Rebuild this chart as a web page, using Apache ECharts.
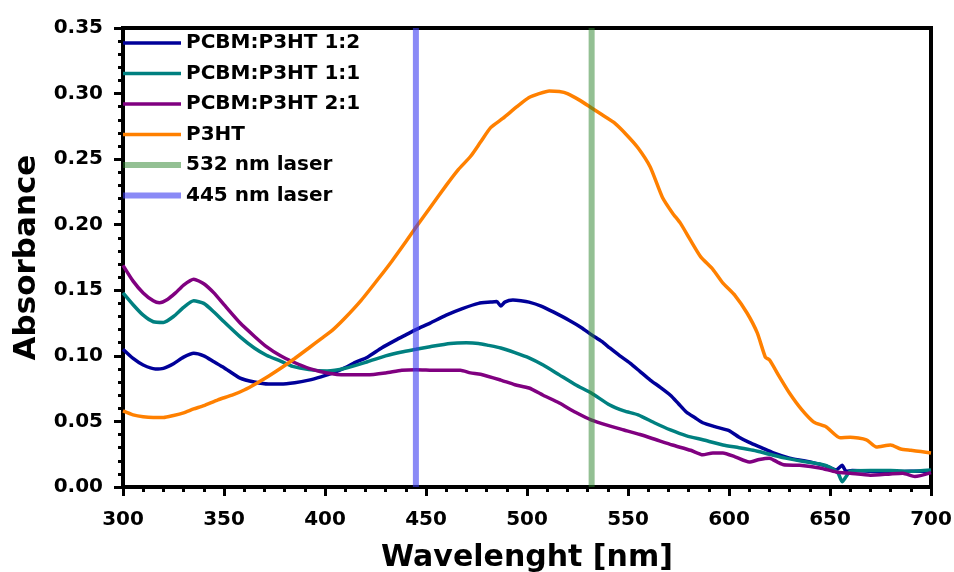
<!DOCTYPE html>
<html>
<head>
<meta charset="utf-8">
<script src="https://cdn.jsdelivr.net/npm/echarts@6/dist/echarts.min.js"></script>
<style>html,body{margin:0;padding:0;background:#fff}#c{width:954px;height:572px}</style>
</head>
<body>
<div id="c"></div>
<script>
// ---- data ----
const seriesNames = ['PCBM:P3HT 1:2', 'PCBM:P3HT 1:1', 'PCBM:P3HT 2:1', 'P3HT', '532 nm laser', '445 nm laser'];
const laserWavelengths = [532, 445];
const yRange = [0, 0.35];

const wl12 = [300,305,310,316,320,325,330,335,340,345,350,358,365,372,378,385,392,398,404,410,415,421,428,435,440,445,452,460,468,476,482,485,487,489,493,497,501,507,513,521,527,532,537,541,546,551,556,561,566,571,575,579,583,587,593,600,605,610,616,622,630,637,643,648,653,656,658,661,670,680,690,700];
const abs12 = [.105,.098,.093,.090,.0905,.094,.099,.102,.100,.0955,.091,.083,.080,.0785,.0785,.0795,.0815,.084,.087,.091,.095,.099,.106,.112,.116,.120,.125,.131,.136,.140,.141,.1415,.138,.141,.1425,.142,.141,.138,.1335,.127,.1215,.116,.111,.106,.100,.0945,.088,.0815,.076,.070,.0635,.057,.053,.049,.046,.043,.038,.034,.030,.026,.022,.020,.018,.016,.013,.0165,.012,.0125,.012,.0115,.012,.012];

const wl11 = [300,305,310,315,320,325,330,335,340,345,350,358,365,371,378,384,392,401,410,421,430,438,445,452,462,470,476,481,487,494,501,508,516,524,532,541,548,555,563,571,579,587,597,605,612,620,628,637,645,650,654,656,658,660,670,680,690,700];
const abs11 = [.148,.139,.131,.126,.1255,.130,.137,.142,.140,.1335,.126,.1145,.106,.1005,.096,.092,.0895,.0885,.0905,.0955,.100,.103,.105,.107,.1095,.110,.1095,.108,.106,.1025,.0985,.093,.0855,.078,.0715,.0625,.058,.055,.049,.0435,.039,.036,.032,.030,.028,.025,.022,.0195,.0175,.015,.0105,.004,.008,.012,.0125,.0125,.012,.013];

const wl21 = [300,305,310,315,318,322,326,330,335,340,345,350,358,365,371,378,384,392,401,410,421,430,438,445,455,467,472,477,487,494,501,508,516,524,532,540,548,556,564,572,581,587,592,597,603,610,615,620,624,627,635,645,653,660,670,680,686,692,700];
const abs21 = [.169,.157,.148,.142,.1405,.143,.148,.154,.1585,.155,.148,.139,.125,.115,.107,.100,.0955,.0905,.087,.0855,.0855,.087,.089,.0895,.089,.089,.087,.086,.0815,.078,.0755,.070,.064,.057,.051,.047,.0435,.040,.036,.032,.028,.0245,.026,.026,.023,.019,.021,.022,.019,.017,.0165,.0145,.0115,.0105,.009,.010,.0105,.008,.011];

const wlP = [300,305,310,315,320,325,330,335,340,347,354,360,366,372,379,385,392,398,404,410,418,426,433,440,445,452,460,466,472,477,482,488,495,501,506,511,516,520,526,532,537,543,549,555,561,567,572,576,581,586,592,597,603,609,614,618,620,625,630,636,642,648,655,660,668,673,680,685,690,695,700];
const absP = [.058,.055,.0535,.053,.053,.0545,.0565,.0595,.062,.0665,.070,.074,.079,.0845,.0915,.098,.106,.113,.120,.129,.1425,.158,.172,.187,.198,.213,.230,.242,.252,.263,.274,.281,.290,.297,.300,.302,.3015,.300,.295,.289,.284,.278,.269,.2585,.244,.221,.209,.201,.188,.1755,.166,.1555,.146,.1325,.1175,.099,.097,.084,.0715,.059,.0495,.046,.0375,.038,.036,.0305,.032,.029,.028,.027,.026];

const colors = ['#000099', '#008080', '#800080', '#ff8000', 'rgba(40,130,40,0.5)', 'rgba(60,60,240,0.6)'];

const FONT = 'DejaVu Sans';
function pairs(xs, ys) { return xs.map((x, i) => [x, ys[i]]); }

const dataSeries = [[wl12, abs12], [wl11, abs11], [wl21, abs21], [wlP, absP]].map((d, i) => ({
  name: seriesNames[i], type: 'line', data: pairs(d[0], d[1]),
  symbol: 'none', smooth: 0.2, lineStyle: { width: 3.5, color: colors[i] },
  itemStyle: { color: colors[i] }, z: 2, animation: false
}));
const laserSeries = laserWavelengths.map((w, j) => ({
  name: seriesNames[4 + j], type: 'line', data: [[w, yRange[0]], [w, yRange[1]]],
  symbol: 'none', lineStyle: { width: 6, color: colors[4 + j] },
  itemStyle: { color: colors[4 + j] }, z: 3, animation: false
}));

const chart = echarts.init(document.getElementById('c'));
chart.setOption({
  animation: false,
  backgroundColor: '#fff',
  grid: { left: 123, right: 23, top: 28, bottom: 85, show: true, borderColor: '#000', borderWidth: 4,
    outerBoundsMode: 'none', containLabel: false },
  legend: {
    left: 115, top: 28, orient: 'vertical', itemWidth: 58, itemHeight: 12, itemGap: 10.5,
    textStyle: { fontFamily: FONT, fontWeight: 'bold', fontSize: 20, color: '#000' },
    lineStyle: { width: 'inherit' },
    itemStyle: { opacity: 0 },
    data: seriesNames
  },
  xAxis: {
    type: 'value', min: 300, max: 700, interval: 50,
    name: 'Wavelenght [nm]', nameLocation: 'middle', nameGap: 56,
    nameTextStyle: { fontFamily: FONT, fontWeight: 'bold', fontSize: 30, color: '#000' },
    axisLine: { show: true, lineStyle: { color: '#000', width: 4 } },
    axisTick: { show: true, inside: false, length: 9, lineStyle: { color: '#000', width: 3 } },
    minorTick: { show: true, splitNumber: 5, length: 5, lineStyle: { color: '#000', width: 3 } },
    splitLine: { show: false },
    axisLabel: { fontFamily: FONT, fontWeight: 'bold', fontSize: 20, color: '#000', margin: 23 }
  },
  yAxis: {
    type: 'value', min: 0, max: 0.35, interval: 0.05,
    name: 'Absorbance', nameLocation: 'middle', nameGap: 80,
    nameTextStyle: { fontFamily: FONT, fontWeight: 'bold', fontSize: 31, color: '#000' },
    axisLine: { show: true, lineStyle: { color: '#000', width: 4 } },
    axisTick: { show: true, inside: false, length: 9, lineStyle: { color: '#000', width: 3 } },
    minorTick: { show: true, splitNumber: 5, length: 5, lineStyle: { color: '#000', width: 3 } },
    splitLine: { show: false },
    axisLabel: { fontFamily: FONT, fontWeight: 'bold', fontSize: 20, color: '#000', margin: 20,
      formatter: v => v.toFixed(2) }
  },
  series: dataSeries.concat(laserSeries)
});
</script>
</body>
</html>
